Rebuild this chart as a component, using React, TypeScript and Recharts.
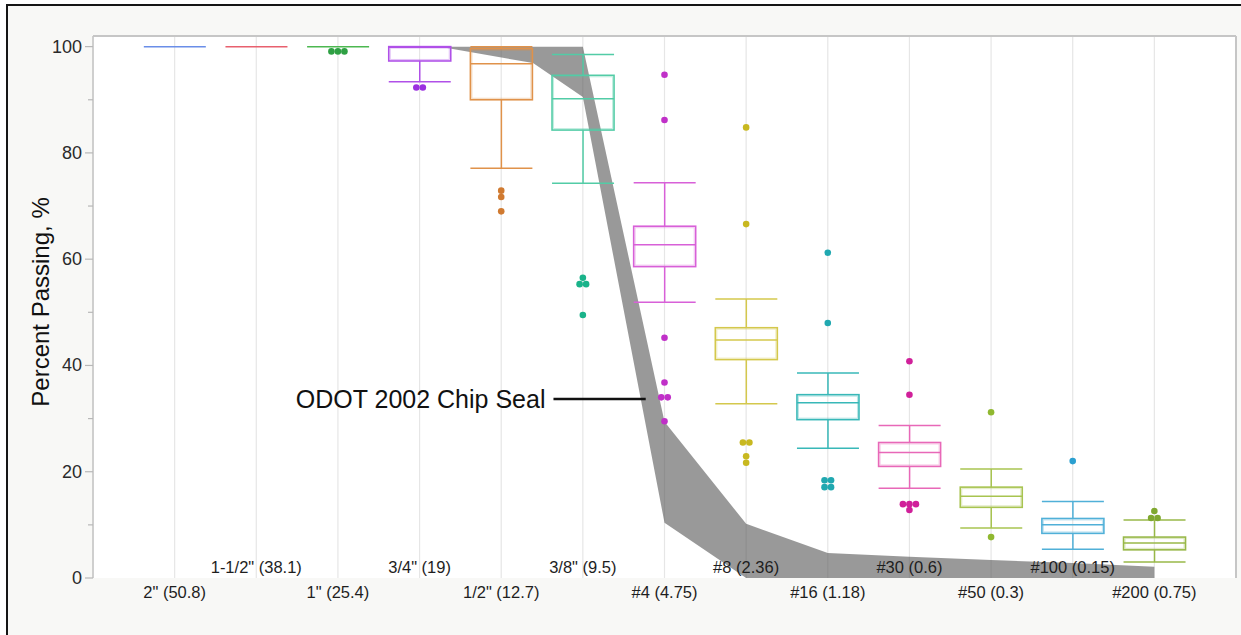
import React from "react";
import {
  ComposedChart,
  Bar,
  Area,
  Scatter,
  XAxis,
  YAxis,
  CartesianGrid,
  ReferenceLine,
} from "recharts";

// sieve sizes, in (mm)
const sieves = [
  '2" (50.8)',
  '1-1/2" (38.1)',
  '1" (25.4)',
  '3/4" (19)',
  '1/2" (12.7)',
  '3/8" (9.5)',
  "#4 (4.75)",
  "#8 (2.36)",
  "#16 (1.18)",
  "#30 (0.6)",
  "#50 (0.3)",
  "#100 (0.15)",
  "#200 (0.75)",
];

// box plot stats, percent passing
const whiskerHigh = [100, 100, 100, 100, 100, 98.5, 74.4, 52.5, 38.6, 28.7, 20.5, 14.4, 10.9];
const q3 = [100, 100, 100, 100, 99.6, 94.6, 66.2, 47.1, 34.5, 25.5, 17.1, 11.2, 7.7];
const median = [100, 100, 100, 99.9, 96.8, 90.2, 62.7, 44.8, 33.0, 23.6, 15.4, 10.0, 6.6];
const q1 = [100, 100, 100, 97.3, 90.0, 84.3, 58.6, 41.1, 29.8, 21.0, 13.3, 8.4, 5.3];
const whiskerLow = [100, 100, 100, 93.4, 77.1, 74.3, 51.9, 32.8, 24.4, 16.9, 9.4, 5.4, 3.0];

// outliers: [sieve index, value, how many at that value]
const outliers: [number, number, number][] = [
  [2, 99.1, 3],
  [3, 92.3, 2],
  [4, 72.9, 1], [4, 71.7, 1], [4, 69.0, 1],
  [5, 56.5, 1], [5, 55.3, 2], [5, 49.5, 1],
  [6, 94.7, 1], [6, 86.2, 1], [6, 45.2, 1], [6, 36.8, 1], [6, 34.0, 2], [6, 29.5, 1],
  [7, 84.8, 1], [7, 66.6, 1], [7, 25.5, 2], [7, 22.9, 1], [7, 21.7, 1],
  [8, 61.2, 1], [8, 48.0, 1], [8, 18.4, 2], [8, 17.1, 2],
  [9, 40.8, 1], [9, 34.5, 1], [9, 13.9, 3], [9, 12.8, 1],
  [10, 31.2, 1], [10, 7.7, 1],
  [11, 22.0, 1],
  [12, 12.6, 1], [12, 11.3, 2],
];

// ODOT 2002 chip seal spec band
const bandX = [3.25, 4.39, 5, 6, 7, 8, 9, 10, 11, 12];
const bandLow = [100, 96.9, 90.5, 10.4, 0, 0, 0, 0, 0, 0];
const bandHigh = [100, 100, 100, 29.4, 10.2, 4.7, 4.0, 3.4, 2.8, 2.1];

const yTicks = [0, 10, 20, 30, 40, 50, 60, 70, 80, 90, 100];

const boxColors = [
  "#6a8ee8", "#e8606e", "#4cb850", "#b050e8", "#e0924a", "#52cca6", "#d860d8",
  "#d4c84c", "#38b8b8", "#e868b8", "#a8c450", "#50b0d8", "#98b848",
];
const dotColors = [
  "#4a70d8", "#d84050", "#2ea043", "#9b30e0", "#d07a30", "#1ab38a", "#c030c8",
  "#c8b820", "#20a8b0", "#d0209a", "#90b830", "#2a9fd0", "#80a830",
];

const FONT = "'Liberation Sans', Arial, sans-serif";
const X_DOMAIN = [-1, 13];

const boxRows = sieves.map((_, i) => ({
  x: i,
  lo: whiskerLow[i],
  q1: q1[i],
  med: median[i],
  q3: q3[i],
  hi: whiskerHigh[i],
}));

const bandRows = bandX.map((x, j) => ({ x, band: [bandLow[j], bandHigh[j]] }));

const outlierRows = outliers.map(([cat, v, n]) => ({ x: cat, y: v, n }));

function BoxShape(props: any) {
  const { x, y, width, height, payload } = props;
  if (!payload || payload.lo == null || !isFinite(y)) return <g />;
  const color = boxColors[payload.x];
  const top = Math.min(y, y + height);
  const h = Math.abs(height);
  const range = payload.hi - payload.lo;
  const py = (v: number) => (range === 0 ? top : top + ((payload.hi - v) / range) * h);
  const cx = x + width / 2;
  const yq3 = py(payload.q3);
  const yq1 = py(payload.q1);
  const ym = py(payload.med);
  const yhi = py(payload.hi);
  const ylo = py(payload.lo);
  if (range === 0) {
    return <line x1={x} x2={x + width} y1={top} y2={top} stroke={color} strokeWidth={1.5} />;
  }
  return (
    <g>
      <line x1={cx} x2={cx} y1={yhi} y2={yq3} stroke={color} strokeWidth={1.5} />
      <line x1={cx} x2={cx} y1={yq1} y2={ylo} stroke={color} strokeWidth={1.5} />
      <line x1={x} x2={x + width} y1={yhi} y2={yhi} stroke={color} strokeWidth={1.5} />
      <line x1={x} x2={x + width} y1={ylo} y2={ylo} stroke={color} strokeWidth={1.5} />
      <rect x={x} y={yq3} width={width} height={Math.max(yq1 - yq3, 0.5)} fill="#fff" fillOpacity={0} stroke={color} strokeWidth={1.6} />
      <rect
        x={x + 1.5}
        y={yq3 + 1.5}
        width={width - 3}
        height={Math.max(yq1 - yq3 - 3, 0)}
        fill="none"
        stroke={color}
        strokeOpacity={0.35}
        strokeWidth={1}
      />
      <line x1={x} x2={x + width} y1={ym} y2={ym} stroke={color} strokeWidth={1.5} />
    </g>
  );
}

function DotShape(props: any) {
  const { cx, cy, payload } = props;
  if (!isFinite(cx) || !isFinite(cy)) return <g />;
  const n = payload.n || 1;
  const gap = 6.5;
  const dots = [];
  for (let k = 0; k < n; k++) {
    const dx = (k - (n - 1) / 2) * gap;
    dots.push(<circle key={k} cx={cx + dx} cy={cy} r={3.3} fill={dotColors[payload.x]} />);
  }
  return <g>{dots}</g>;
}

function XTick(props: any) {
  const { x, y, payload } = props;
  const i = payload.value;
  const label = sieves[i];
  if (label == null) return <g />;
  const below = i % 2 === 0;
  return (
    <text
      x={x}
      y={below ? y + 14 : y - 11}
      textAnchor="middle"
      dominantBaseline="central"
      fontSize={16.5}
      fontFamily={FONT}
      fill="#1e1e1e"
    >
      {label}
    </text>
  );
}

function YTick(props: any) {
  const { x, y, payload } = props;
  const v = payload.value;
  const major = v % 20 === 0;
  return (
    <g>
      <line x1={x - (major ? 8 : 5)} x2={x} y1={y} y2={y} stroke="#b8b8b8" strokeWidth={1.2} />
      {major && (
        <text
          x={x - 11}
          y={y}
          textAnchor="end"
          dominantBaseline="central"
          fontSize={18}
          fontFamily={FONT}
          fill="#2a2a2a"
        >
          {v}
        </text>
      )}
    </g>
  );
}

export default function App() {
  return (
    <div style={{ position: "absolute", left: 0, top: 0, width: 1241, height: 635, background: "#fff", overflow: "hidden" }}>
      <div
        style={{
          position: "absolute",
          left: 6,
          top: 4,
          width: 1250,
          height: 650,
          borderLeft: "2px solid #151515",
          borderTop: "2px solid #151515",
          background: "#f8f8f6",
        }}
      />
      <div style={{ position: "absolute", left: 0, top: 0 }}>
        <ComposedChart
          width={1241}
          height={635}
          data={boxRows}
          margin={{ top: 36, right: 5, bottom: 27, left: 0 }}
        >
          <CartesianGrid fill="#ffffff" horizontal={false} stroke="#e6e6e6" strokeWidth={1.2} />
          <ReferenceLine y={102} stroke="#c6c6c6" strokeWidth={2} />
          <ReferenceLine x={13} stroke="#c6c6c6" strokeWidth={2} />
          <Bar
            xAxisId="box"
            dataKey={(d: any) => [d.lo, d.hi]}
            barSize={62}
            shape={<BoxShape />}
            isAnimationActive={false}
          />
          <Scatter xAxisId="box" data={outlierRows} dataKey="y" shape={<DotShape />} isAnimationActive={false} />
          <Area
            data={bandRows}
            type="linear"
            dataKey="band"
            stroke="none"
            fill="#555555"
            fillOpacity={0.6}
            dot={false}
            activeDot={false}
            isAnimationActive={false}
          />
          <ReferenceLine
            segment={[
              { x: 4.64, y: 33.7 },
              { x: 5.77, y: 33.7 },
            ]}
            stroke="#111"
            strokeWidth={2.6}
            label={{
              content: (p: any) => {
                const vb = p.viewBox || {};
                return (
                  <text
                    x={vb.x - 8}
                    y={vb.y}
                    textAnchor="end"
                    dominantBaseline="central"
                    fontSize={25}
                    fontFamily={FONT}
                    fill="#111"
                  >
                    ODOT 2002 Chip Seal
                  </text>
                );
              },
            }}
          />
          <YAxis
            type="number"
            domain={[0, 102]}
            ticks={yTicks}
            interval={0}
            width={93}
            allowDataOverflow
            axisLine={{ stroke: "#c4c4c4", strokeWidth: 1.5 }}
            tickLine={false}
            tickSize={0}
            tickMargin={0}
            tick={<YTick />}
            label={{
              content: (p: any) => {
                const vb = p.viewBox || {};
                const cy = vb.y + vb.height / 2 - 5;
                return (
                  <text
                    x={40}
                    y={cy}
                    transform={`rotate(-90, 40, ${cy})`}
                    textAnchor="middle"
                    dominantBaseline="central"
                    fontSize={24}
                    fontFamily={FONT}
                    fill="#111"
                  >
                    Percent Passing, %
                  </text>
                );
              },
            }}
          />
          <XAxis
            xAxisId="box"
            type="number"
            dataKey="x"
            domain={X_DOMAIN}
            ticks={sieves.map((_, i) => i)}
            allowDataOverflow
            hide
            height={0}
          />
          <XAxis
            type="number"
            dataKey="x"
            domain={X_DOMAIN}
            ticks={sieves.map((_, i) => i)}
            interval={0}
            height={30}
            allowDataOverflow
            axisLine={false}
            tickLine={false}
            tickSize={0}
            tickMargin={0}
            tick={<XTick />}
          />
        </ComposedChart>
      </div>
    </div>
  );
}
